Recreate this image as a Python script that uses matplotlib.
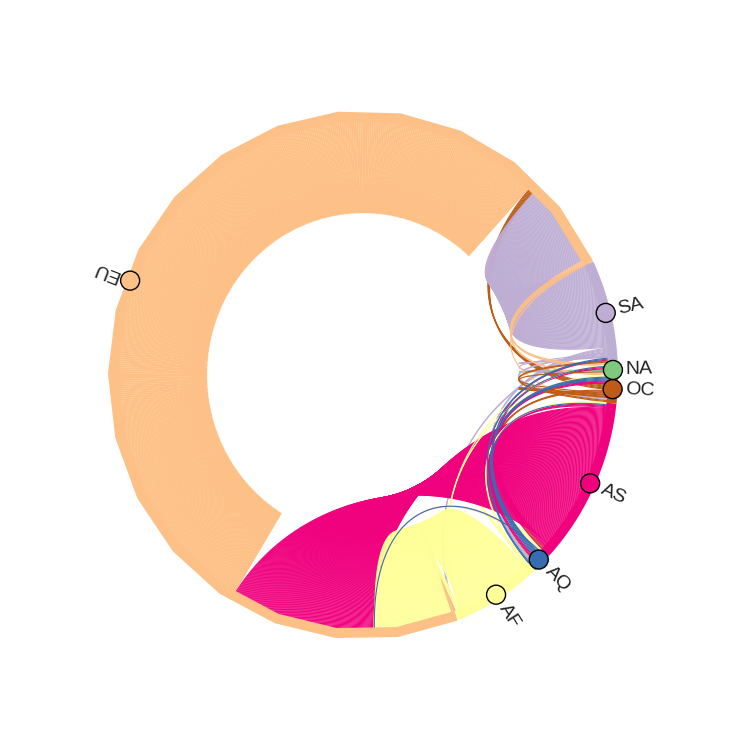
import numpy as np
import matplotlib
matplotlib.use('Agg')
import matplotlib.pyplot as plt
from matplotlib.collections import LineCollection

# node order round the circle, colours from Accent
nodes = ['NA', 'SA', 'EU', 'AF', 'AQ', 'AS', 'OC']
node_colors = ['#7fc97f', '#beaed4', '#fdc086', '#ffff99', '#386cb0', '#f0027f', '#bf5b17']

# links in layout order
sources = ['EU', 'AF', 'AF', 'AF', 'AF', 'AF', 'AF',
           'AQ', 'EU', 'AQ', 'AQ', 'AQ', 'AS',
           'AS', 'AS', 'AS', 'EU', 'NA',
           'OC', 'OC', 'OC', 'OC', 'OC',
           'SA', 'SA', 'SA', 'SA', 'SA', 'SA',
           'AQ', 'AS', 'OC', 'EU', 'EU', 'EU']
targets = ['EU', 'AQ', 'AS', 'EU', 'NA', 'OC', 'EU',
           'EU', 'AQ', 'AS', 'NA', 'OC', 'AQ',
           'EU', 'NA', 'OC', 'EU', 'NA',
           'EU', 'AQ', 'AS', 'NA', 'OC',
           'EU', 'AQ', 'AF', 'NA', 'OC', 'SA',
           'SA', 'SA', 'SA', 'SA', 'NA', 'OC']
weights = [2, 3, 2, 78, 1, 2, 4,
           1, 1, 1, 1, 4, 3,
           151, 2, 3, 428, 1,
           6, 1, 2, 1, 2,
           86, 3, 2, 1, 2, 1,
           2, 1, 2, 3, 2, 1]

# later groups lie on top, these links stay underneath
draw_order = ['NA', 'SA', 'EU', 'AS', 'OC', 'AF', 'AQ']
under_links = [('OC', 'EU'), ('OC', 'AQ'), ('OC', 'AS'), ('AF', 'AQ')]

n = len(nodes)
idx = {k: i for i, k in enumerate(nodes)}
matrix = np.zeros((n, n))
for s, t, w in zip(sources, targets, weights):
    matrix[idx[s], idx[t]] += w

area_weights = matrix.sum(axis=0) + matrix.sum(axis=1)
radians = area_weights / area_weights.sum() * 2 * np.pi
points = np.concatenate([[0], radians.cumsum()])
mids = np.convolve(points, [0.5, 0.5], mode='valid')

areas = []
for i in range(n):
    angles = np.linspace(points[i], points[i + 1], int(area_weights[i]))
    areas.append(list(zip(np.cos(angles), np.sin(angles))))


def bezier(p0, p1, steps=50):
    p0, p1 = np.array(p0), np.array(p1)
    c0, c1 = p0 / 2, p1 / 2
    t = np.linspace(0, 1, steps)[:, None]
    return (1 - t)**3 * p0 + 3 * (1 - t)**2 * t * c0 + 3 * (1 - t) * t**2 * c1 + t**3 * p1


segs = {k: [] for k in nodes}
under = []
under_colors = []
for s, t, w in zip(sources, targets, weights):
    for _ in range(w):
        if not areas[idx[s]]:
            continue
        a = areas[idx[s]].pop()
        if not areas[idx[t]]:
            continue
        b = areas[idx[t]].pop()
        if (s, t) in under_links:
            under.append(bezier(a, b))
            under_colors.append(node_colors[idx[s]])
        else:
            segs[s].append(bezier(a, b))

fig = plt.figure(figsize=(7.5, 7.5), dpi=100)
# unit circle is 250 x 259.5 px around (363, 375)
ax = fig.add_axes([(363 - 275) / 750, (750 - 375 - 285.45) / 750, 550 / 750, 570.9 / 750])
ax.set_xlim(-1.1, 1.1)
ax.set_ylim(-1.1, 1.1)
ax.axis('off')

lw = 0.8
ax.add_collection(LineCollection(under, colors=under_colors, linewidths=lw, zorder=2))
for k in draw_order:
    ax.add_collection(LineCollection(segs[k], colors=node_colors[idx[k]], linewidths=lw, zorder=2))

for i in range(n):
    vals = np.linspace(points[i], points[i + 1], 20)
    ax.plot(np.cos(vals), np.sin(vals), color=node_colors[i], lw=7.2,
            solid_capstyle='butt', zorder=3)

ax.scatter(np.cos(mids), np.sin(mids), s=187, c=node_colors, edgecolors='black',
           linewidths=1, zorder=4, clip_on=False)

for i in range(n):
    ax.text(1.05 * np.cos(mids[i]), 1.05 * np.sin(mids[i]), nodes[i],
            rotation=np.degrees(mids[i]), rotation_mode='anchor',
            ha='left', va='center', fontsize=14, family='Liberation Sans',
            color='#222222', zorder=5)

fig.savefig('out.png', dpi=100)
